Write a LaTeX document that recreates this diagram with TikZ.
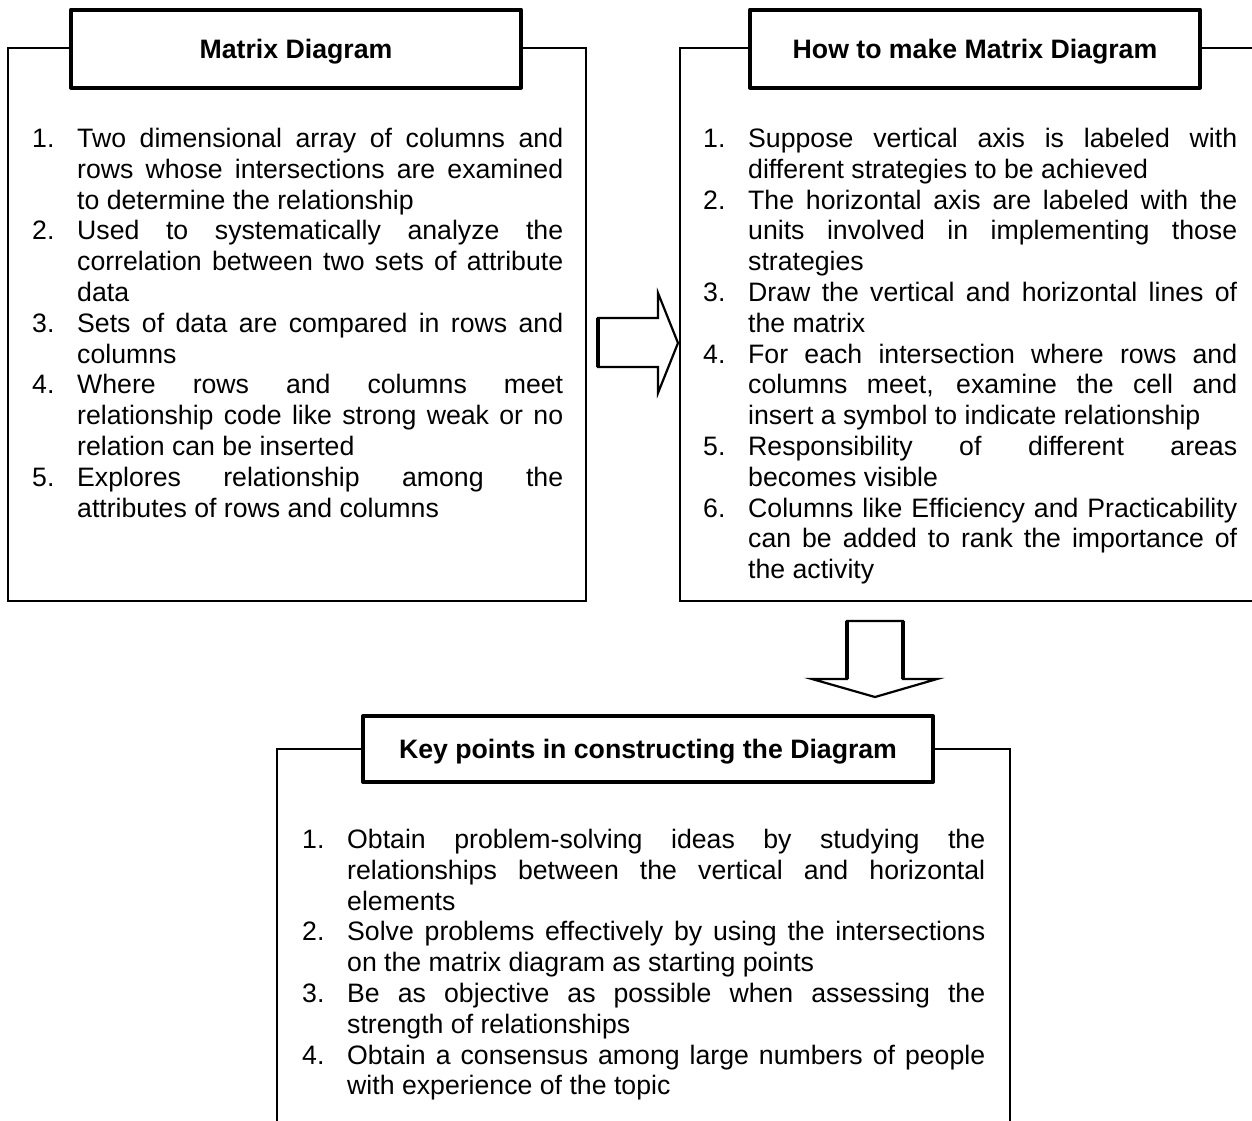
\documentclass[tikz,border=0pt]{standalone}
\usepackage{fontspec}
\setmainfont{Liberation Sans}
% one numbered entry with a hanging indent for its continuation lines
\newcommand\numentry[2]{\par\noindent\hangindent=45pt\hangafter=1
  \rule{0pt}{22pt}\makebox[45pt][l]{#1.}#2\par}
\begin{document}
\begin{tikzpicture}[x=1pt,y=-1pt,
  frameline/.style={line width=2pt},
  titlebox/.style={draw,line width=4pt,line join=round,inner sep=0pt,
    font=\fontsize{26.67}{30.8}\selectfont\bfseries,
    text height=19pt,text depth=0pt},
  bodytext/.style={anchor=north west,inner sep=0pt,align=justify,
    font=\fontsize{26.67}{30.8}\selectfont},
  blockarrow/.style={draw,line width=2.2pt,line join=miter,fill=white},
  heavyedge/.style={line width=3.6pt}]
\useasboundingbox (0,0) rectangle (1252,1120);

% ---- left panel: Matrix Diagram ----
\node[titlebox,minimum width=450pt,minimum height=78pt] (t1) at (296,48.5) {Matrix Diagram};
\coordinate (p1a) at (8,48);
\coordinate (p1b) at (8,601);
\coordinate (p1c) at (586,601);
\coordinate (p1d) at (586,48);
\draw[frameline] (t1.west |- p1a) -- (p1a) -- (p1b) -- (p1c) -- (p1d) -- (t1.east |- p1d);
\node[bodytext,text width=531pt] (b1) at (32,116.5) {%
\hyphenpenalty=10000 \tolerance=10000
\numentry{1}{Two dimensional array of columns and\linebreak rows whose intersections are examined\linebreak to determine the relationship}
\numentry{2}{Used to systematically analyze the\linebreak correlation between two sets of attribute\linebreak data}
\numentry{3}{Sets of data are compared in rows and\linebreak columns}
\numentry{4}{Where rows and columns meet\linebreak relationship code like strong weak or no\linebreak relation can be inserted}
\numentry{5}{Explores relationship among the\linebreak attributes of rows and columns}};

% ---- right panel: How to make Matrix Diagram ----
\node[titlebox,minimum width=450pt,minimum height=78pt] (t2) at (975,48.5) {How to make Matrix Diagram};
\coordinate (p2a) at (680,48);
\coordinate (p2b) at (680,601);
\coordinate (p2c) at (1253,601);
\coordinate (p2d) at (1253,48);
\draw[frameline] (t2.west |- p2a) -- (p2a) -- (p2b) -- (p2c);
\draw[frameline] (t2.east |- p2d) -- (p2d);
\node[bodytext,text width=534pt] (b2) at (703,116.5) {%
\hyphenpenalty=10000 \tolerance=10000
\numentry{1}{Suppose vertical axis is labeled with\linebreak different strategies to be achieved}
\numentry{2}{The horizontal axis are labeled with the\linebreak units involved in implementing those\linebreak strategies}
\numentry{3}{Draw the vertical and horizontal lines of\linebreak the matrix}
\numentry{4}{For each intersection where rows and\linebreak columns meet, examine the cell and\linebreak insert a symbol to indicate relationship}
\numentry{5}{Responsibility of different areas\linebreak becomes visible}
\numentry{6}{Columns like Efficiency and Practicability\linebreak can be added to rank the importance of\linebreak the activity}};

% ---- bottom panel: Key points ----
\node[titlebox,minimum width=570pt,minimum height=66pt] (t3) at (648,749) {Key points in constructing the Diagram};
\coordinate (p3a) at (277,749);
\coordinate (p3b) at (277,1121);
\coordinate (p3c) at (1010,749);
\coordinate (p3d) at (1010,1121);
\draw[frameline] (t3.west |- p3a) -- (p3a) -- (p3b);
\draw[frameline] (t3.east |- p3c) -- (p3c) -- (p3d);
\node[bodytext,text width=683pt] (b3) at (302,817.5) {%
\hyphenpenalty=10000 \tolerance=10000
\numentry{1}{Obtain problem-solving ideas by studying the\linebreak relationships between the vertical and horizontal\linebreak elements}
\numentry{2}{Solve problems effectively by using the intersections\linebreak on the matrix diagram as starting points}
\numentry{3}{Be as objective as possible when assessing the\linebreak strength of relationships}
\numentry{4}{Obtain a consensus among large numbers of people\linebreak with experience of the topic}};

% ---- block arrows between the panels ----
\coordinate (ra1) at (598,318);
\coordinate (ra2) at (598,367);
\draw[blockarrow] (ra1) -- (658,318) -- (658,293) -- (678,343)
  -- (658,393) -- (658,367) -- (ra2) -- cycle;
\draw[heavyedge] (ra1) -- (ra2);
\coordinate (da1) at (847,621);
\coordinate (da2) at (847,679);
\coordinate (da3) at (903,621);
\coordinate (da4) at (903,679);
\draw[blockarrow] (da1) -- (da3) -- (da4) -- (937,679)
  -- (875,697) -- (812,679) -- (da2) -- cycle;
\draw[heavyedge] (da1) -- (da2) (da3) -- (da4);
\end{tikzpicture}
\end{document}
